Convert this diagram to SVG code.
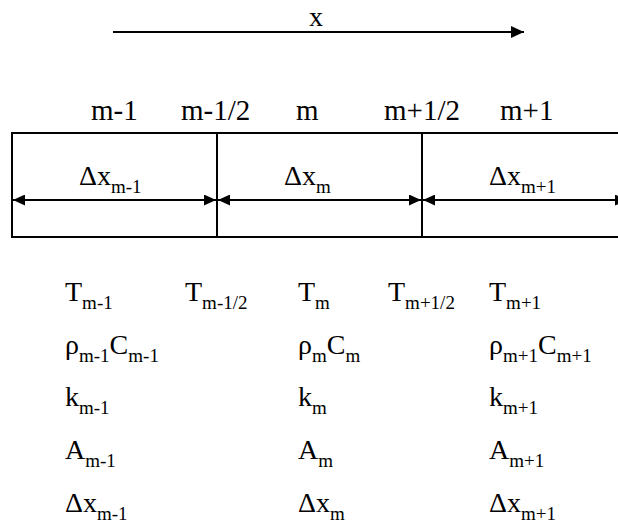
<svg xmlns="http://www.w3.org/2000/svg" width="618" height="529" viewBox="0 0 618 529">
<defs>
<marker id="ah" viewBox="0 0 12 11" refX="12" refY="5.5" markerWidth="12" markerHeight="11" markerUnits="userSpaceOnUse" orient="auto-start-reverse">
<path d="M0,0 L12,5.5 L0,11 Z" fill="#000"/>
</marker>
<marker id="ah2" viewBox="0 0 13 12" refX="13" refY="6" markerWidth="13" markerHeight="12" markerUnits="userSpaceOnUse" orient="auto">
<path d="M0,0 L13,6 L0,12 Z" fill="#000"/>
</marker>
<style>
text{font-family:"Liberation Serif","Times New Roman",serif;font-size:28px;fill:#000}
.top{font-size:29px}
.s{font-size:19px}
.ln{stroke:#000;stroke-width:2;fill:none}
</style>
</defs>
<rect width="618" height="529" fill="#fff"/>
<g id="axis">
<line class="ln" x1="113" y1="32" x2="524" y2="32" marker-end="url(#ah2)"/>
<text x="316" y="26" text-anchor="middle">x</text>
</g>
<g id="index-labels">
<text class="top" x="91" y="120">m-1</text>
<text class="top" x="181" y="120">m-1/2</text>
<text class="top" x="296" y="120">m</text>
<text class="top" x="384" y="120">m+1/2</text>
<text class="top" x="500" y="120">m+1</text>
</g>
<g id="cells">
<g id="cell-m-1">
<path class="ln" d="M630,133 H12 V237 H630"/>
<text x="79" y="185">Δx<tspan class="s" dy="8">m-1</tspan></text>
</g>
<g id="cell-m">
<line class="ln" x1="217" y1="133" x2="217" y2="237"/>
<text x="284" y="185">Δx<tspan class="s" dy="8">m</tspan></text>
</g>
<g id="cell-m+1">
<line class="ln" x1="422" y1="133" x2="422" y2="237"/>
<text x="489" y="185">Δx<tspan class="s" dy="8">m+1</tspan></text>
</g>
</g>
<g id="connectors">
<line class="ln" x1="13" y1="200" x2="216" y2="200" marker-start="url(#ah)" marker-end="url(#ah)"/>
<line class="ln" x1="218" y1="200" x2="421" y2="200" marker-start="url(#ah)" marker-end="url(#ah)"/>
<line class="ln" x1="423" y1="200" x2="627" y2="200" marker-start="url(#ah)" marker-end="url(#ah)"/>
</g>
<g id="properties">
<text x="65" y="301">T<tspan class="s" dy="8">m-1</tspan></text>
<text x="185" y="301">T<tspan class="s" dy="8">m-1/2</tspan></text>
<text x="298" y="301">T<tspan class="s" dy="8">m</tspan></text>
<text x="388" y="301">T<tspan class="s" dy="8">m+1/2</tspan></text>
<text x="489" y="301">T<tspan class="s" dy="8">m+1</tspan></text>

<text x="65" y="354">ρ<tspan class="s" dy="8">m-1</tspan><tspan dy="-8">C</tspan><tspan class="s" dy="8">m-1</tspan></text>
<text x="298" y="354">ρ<tspan class="s" dy="8">m</tspan><tspan dy="-8">C</tspan><tspan class="s" dy="8">m</tspan></text>
<text x="489" y="354">ρ<tspan class="s" dy="8">m+1</tspan><tspan dy="-8">C</tspan><tspan class="s" dy="8">m+1</tspan></text>

<text x="65" y="406">k<tspan class="s" dy="8">m-1</tspan></text>
<text x="298" y="406">k<tspan class="s" dy="8">m</tspan></text>
<text x="489" y="406">k<tspan class="s" dy="8">m+1</tspan></text>

<text x="65" y="459">A<tspan class="s" dy="8">m-1</tspan></text>
<text x="298" y="459">A<tspan class="s" dy="8">m</tspan></text>
<text x="489" y="459">A<tspan class="s" dy="8">m+1</tspan></text>

<text x="65" y="512">Δx<tspan class="s" dy="8">m-1</tspan></text>
<text x="298" y="512">Δx<tspan class="s" dy="8">m</tspan></text>
<text x="489" y="512">Δx<tspan class="s" dy="8">m+1</tspan></text>
</g>
</svg>
